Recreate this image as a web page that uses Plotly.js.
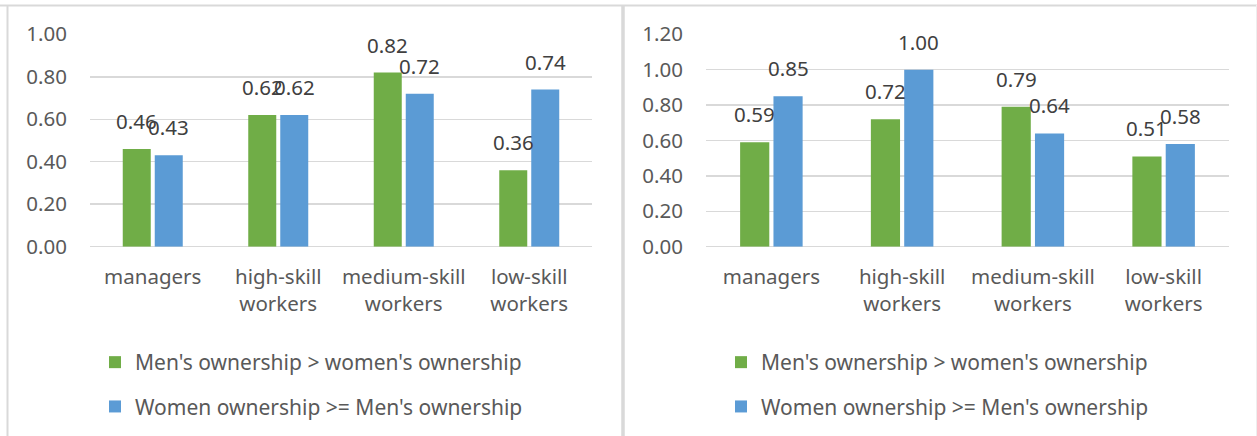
<!DOCTYPE html>
<html>
<head>
<meta charset="utf-8">
<script src="https://cdn.plot.ly/plotly-3.0.1.min.js"></script>
<style>
html,body{margin:0;padding:0;background:#fff;}
#chart{width:1257px;height:436px;}
</style>
</head>
<body>
<div id="chart"></div>
<script>
// ---- data ----
const categories = ["managers", "high-skill<br>workers", "medium-skill<br>workers", "low-skill<br>workers"];
const seriesNames = ["Men's ownership > women's ownership", "Women ownership >= Men's ownership"];
const leftMen = [0.46, 0.62, 0.82, 0.36];
const leftWomen = [0.43, 0.62, 0.72, 0.74];
const rightMen = [0.59, 0.72, 0.79, 0.51];
const rightWomen = [0.85, 1.00, 0.64, 0.58];
const leftTicks = [0, 0.2, 0.4, 0.6, 0.8, 1.0];
const rightTicks = [0, 0.2, 0.4, 0.6, 0.8, 1.0, 1.2];

// ---- style ----
const W = 1257, H = 436;
const GREEN = '#70AD47', BLUE = '#5B9BD5';
const FONT = 'Noto Sans, Open Sans, sans-serif';
const TICKCOL = '#595959', LABCOL = '#404040', GRID = '#d9d9d9';
const BARGAP = 0.49, GROUPGAP = 0.125;
const leftDom = [90 / W, 592 / W];
const rightDom = [706 / W, 1229 / W];
const yDom = [1 - 246.7 / H, 1 - 34.3 / H];

function bar(name, y, color, xa, ya, legend) {
  return {
    type: 'bar', x: categories, y: y, name: name,
    marker: {color: color}, xaxis: xa, yaxis: ya,
    legend: legend, legendgroup: legend + name,
    hoverinfo: 'skip'
  };
}

const data = [
  bar(seriesNames[0], leftMen, GREEN, 'x', 'y', 'legend'),
  bar(seriesNames[1], leftWomen, BLUE, 'x', 'y', 'legend'),
  bar(seriesNames[0], rightMen, GREEN, 'x2', 'y2', 'legend2'),
  bar(seriesNames[1], rightWomen, BLUE, 'x2', 'y2', 'legend2')
];

// data label annotations
function labels(vals, dom, xref, yref, sign) {
  const catPx = (dom[1] - dom[0]) * W / categories.length;
  const off = catPx * (1 - BARGAP) / 4;
  return vals.map((v, i) => ({
    x: categories[i], y: v, xref: xref, yref: yref,
    text: v.toFixed(2), showarrow: false,
    xanchor: 'center', yanchor: 'bottom',
    xshift: sign * off, yshift: 12,
    font: {family: FONT, size: 20.5, color: LABCOL}
  }));
}
const annotations = [].concat(
  labels(leftMen, leftDom, 'x', 'y', -1),
  labels(leftWomen, leftDom, 'x', 'y', 1),
  labels(rightMen, rightDom, 'x2', 'y2', -1),
  labels(rightWomen, rightDom, 'x2', 'y2', 1)
);

function px(x) { return x / W; }
function py(y) { return 1 - y / H; }
const shapes = [
  {type: 'line', xref: 'paper', yref: 'paper', x0: px(0), x1: px(1257), y0: py(5.5), y1: py(5.5), line: {color: GRID, width: 2}},
  {type: 'line', xref: 'paper', yref: 'paper', x0: px(7.5), x1: px(7.5), y0: py(5), y1: py(440), line: {color: GRID, width: 2}},
  {type: 'line', xref: 'paper', yref: 'paper', x0: px(623), x1: px(623), y0: py(5), y1: py(440), line: {color: GRID, width: 3.5}},
  {type: 'line', xref: 'paper', yref: 'paper', x0: px(1256.5), x1: px(1256.5), y0: py(5), y1: py(440), line: {color: '#eeeeee', width: 1}}
];

const xaxisBase = {
  type: 'category', showgrid: false, zeroline: false, showline: false,
  ticks: '', tickfont: {family: FONT, size: 20.5, color: TICKCOL},
  ticklabelstandoff: 16, fixedrange: true
};
const yaxisBase = {
  showgrid: true, gridcolor: GRID, gridwidth: 1.5,
  zeroline: true, zerolinecolor: GRID, zerolinewidth: 1.5,
  showline: false, ticks: '', tickformat: '.2f',
  tickfont: {family: FONT, size: 20.5, color: TICKCOL},
  ticklabelstandoff: 22, fixedrange: true, domain: yDom
};

const legendBase = {
  orientation: 'v', xanchor: 'left', yanchor: 'top',
  font: {family: FONT, size: 21, color: TICKCOL},
  bgcolor: 'rgba(0,0,0,0)', tracegroupgap: 14,
  itemclick: false, itemdoubleclick: false
};

const layout = {
  width: W, height: H,
  margin: {l: 0, r: 0, t: 0, b: 0},
  paper_bgcolor: '#ffffff', plot_bgcolor: '#ffffff',
  barmode: 'group', bargap: BARGAP, bargroupgap: GROUPGAP,
  showlegend: true,
  xaxis: Object.assign({}, xaxisBase, {domain: leftDom, anchor: 'y'}),
  yaxis: Object.assign({}, yaxisBase, {range: [0, 1.0], tickvals: leftTicks, anchor: 'x'}),
  xaxis2: Object.assign({}, xaxisBase, {domain: rightDom, anchor: 'y2'}),
  yaxis2: Object.assign({}, yaxisBase, {range: [0, 1.2], tickvals: rightTicks, anchor: 'x2'}),
  legend: Object.assign({}, legendBase, {x: px(95), y: py(342)}),
  legend2: Object.assign({}, legendBase, {x: px(721), y: py(342)}),
  annotations: annotations,
  shapes: shapes
};

Plotly.newPlot('chart', data, layout, {staticPlot: true, displayModeBar: false});
</script>
</body>
</html>
